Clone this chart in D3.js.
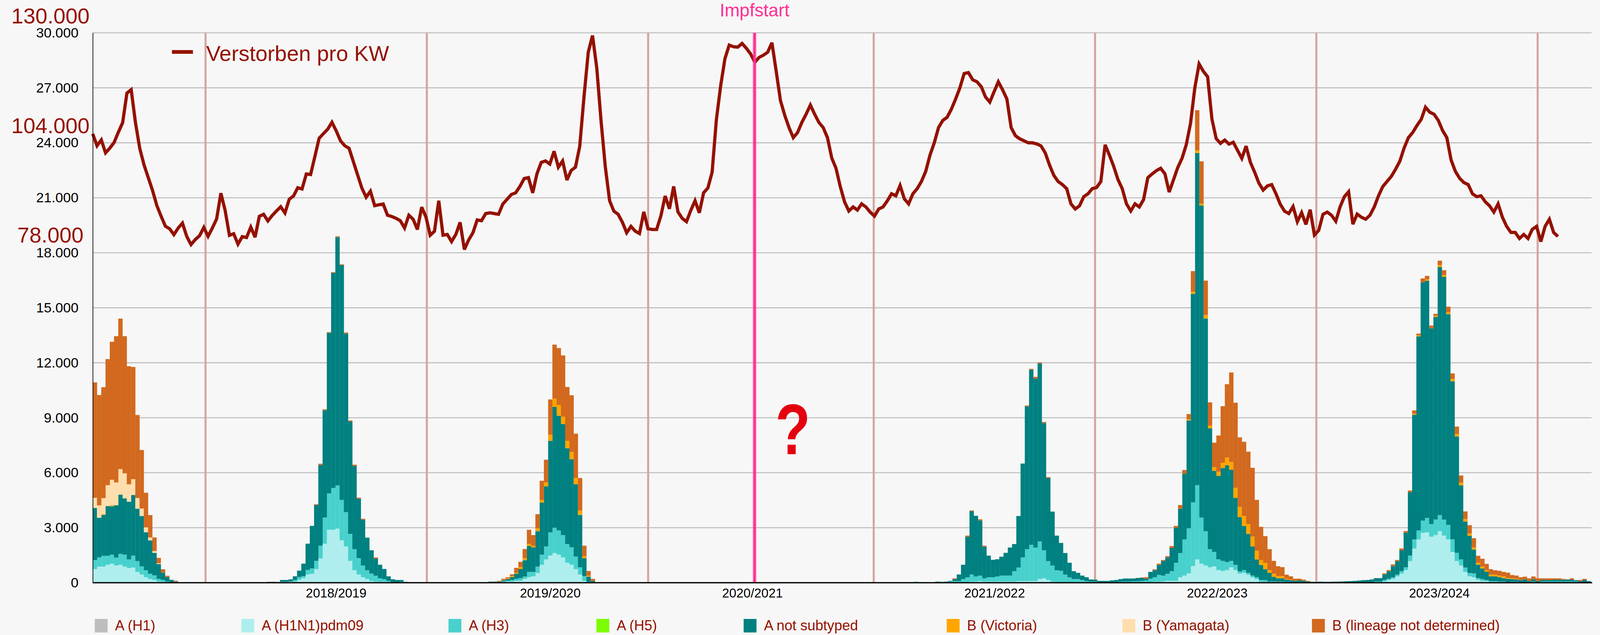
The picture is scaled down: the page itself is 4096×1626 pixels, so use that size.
<!DOCTYPE html>
<html><head><meta charset="utf-8">
<script src="https://cdn.jsdelivr.net/npm/d3@7"></script>
<style>html,body{margin:0;padding:0;background:#f7f7f7;overflow:hidden}text{font-family:"Liberation Sans",Arial,Helvetica,sans-serif}</style>
</head><body>
<svg id="chart" width="4096" height="1626"></svg>
<script>
// ---------------- DATA ----------------
const seriesNames = ["A (H1)", "A (H1N1)pdm09", "A (H3)", "A (H5)", "A not subtyped", "B (Victoria)", "B (Yamagata)", "B (lineage not determined)"];
const seriesColors = ["#bebebe", "#afeeee", "#48d1cc", "#7cfc00", "#008080", "#ffa500", "#ffdead", "#d2691e"];
// first week index (0 = 2018 KW1) of each block of bar values
const segmentStart = [0, 41, 93, 193];

const aH1 = [[], [], [], []];
const aH5 = [[], [], [], []];
const aH1N1 = [
  [740,880,880,980,1040,940,980,880,800,830,590,450,300,200,150,60,45,0,0,0],
  [0,0,0,50,50,65,50,160,250,450,490,740,1320,2130,2890,2890,2950,2310,1980,1190,680,450,300,200,90,50,30,50,20,0,0,0,0],
  [0,0,0,30,70,60,100,100,210,300,350,530,980,1270,1480,1620,1530,1380,1090,980,740,450,100,0,0],
  [0,0,0,0,0,0,0,0,0,0, 0,0,0,60,60,90,60,60,60,60, 60,60,60,60,90,90,90,90,90,200,
   240,150,40,0,0,0,0,0,0,0, 0,0,0,0,0,0,0,0,0,0, 0,0,0,0,0,0,50,50,70,100,
   100,100,300,390,510,910,1270,1040,940,840, 890,690,640,690,840,690,500,540,440,290,
   200,50,0,0,0,0,0,0,0,0, 0,0,0,0,0,0,0,0,0,0, 0,0,0,0,0,0,0,0,0,0,
   70,150,210,350,500,690,1180,1860,2360,2720, 2750,2510,2600,2810,2570,2360,1680,1180,940,590,
   350,300,160,90,90,40,40,0,0,0, 0,0,0,0,0,0,0,0,0,0, 0,0,0,0,0,0,0,0,0]
];
const aH3 = [
  [500,500,590,490,490,430,590,650,470,650,590,440,380,290,250,150,110,70,0,0],
  [0,0,50,0,0,0,100,150,110,250,290,450,700,1430,1980,2280,2360,2210,1870,1470,1150,890,640,480,410,330,210,140,80,30,0,50,0],
  [0,0,0,50,40,90,110,150,130,290,240,350,550,710,1270,1380,1320,1220,1020,950,690,390,260,50,0],
  [60,0,0,0,0,0,60,0,60,90, 90,200,290,390,280,300,180,240,240,280, 330,330,330,570,740,1290,1740,1980,1830,2050,
   1530,1030,900,680,650,440,290,200,200,150, 90,60,60,0,0,0,30,40,60,70, 70,80,90,100,130,220,250,380,320,390,
   530,990,1320,1970,2460,3480,4050,2510,1870,990, 790,590,550,440,350,280,120,150,100,100,
   100,100,140,70,70,60,60,50,50,30, 40,30,0,0,0,0,0,0,0,0, 0,0,0,0,0,0,0,0,70,70,
   80,70,90,90,130,150,300,500,490,670, 790,690,850,880,870,790,690,450,330,240,
   180,210,90,110,50,50,50,70,70,0, 50,50,0,0,0,60,0,70,70,70, 70,70,70,70,70,70,0,0,0]
];
const aNotSubtyped = [
  [2840,2160,2230,2710,2640,2860,3240,3070,3150,3310,2860,2750,2070,1820,1230,810,390,240,160,60],
  [50,50,0,100,100,120,200,350,680,1430,2320,3050,4400,5850,8760,11730,13540,12810,9740,6140,4540,3240,2500,1780,1270,940,740,560,250,160,150,100,50],
  [60,60,60,60,90,160,280,500,890,1420,1330,1930,2840,3280,4990,6590,6260,6060,5230,4810,3940,2860,980,280,100],
  [0,0,0,10,10,60,0,60,40,110, 360,780,2220,3450,3310,3010,1730,1180,950,940, 1030,1240,1530,1480,2810,5120,7790,9550,9220,9710,
   6940,4530,2940,1890,1520,1180,800,430,340,240, 210,120,110,100,100,100,100,110,140,160, 160,150,170,170,90,370,380,540,800,890,
   1270,1910,2420,3590,5880,11370,18120,17030,11600,6590, 4420,4550,5070,5280,4970,3660,2960,2410,2120,1590,
   970,820,600,470,250,180,180,120,90,70, 100,70,70,50,50,60,50,50,60,60, 70,80,90,100,120,140,150,180,180,180,
   310,410,610,740,1140,1900,3460,6800,10590,13000, 12940,10680,11050,13530,13250,11500,8620,6350,4040,2510,
   2030,1300,730,570,460,260,260,230,180,210, 150,130,140,190,100,130,90,80,80,80, 100,100,90,110,100,70,90,150,90]
];
const bVictoria = [
  [0,0,45,0,56,0,0,0,0,0,0,0,0,0,0,0,0,0,0,0],
  [],
  [0,0,0,20,40,50,50,100,110,110,90,160,150,210,340,450,590,400,400,400,340,240,100,50,0],
  [0,0,0,0,0,0,0,0,0,0, 0,0,0,0,0,0,0,0,0,0, 0,0,0,0,0,0,0,0,0,0,
   0,0,0,0,0,0,0,0,0,0, 0,0,0,0,0,0,0,0,0,0, 0,0,0,0,0,0,0,0,0,0,
   0,0,0,0,70,120,150,100,200,150, 200,230,280,420,430,540,550,540,540,540,
   470,270,350,150,170,120,120,50,30,0, 0,0,0,0,0,0,0,0,0,0, 0,0,0,0,0,0,0,0,0,0,
   0,0,0,0,0,0,0,60,60,0, 70,0,60,110,90,110,130,140,150,140,
   130,120,100,110,90,90,90,90,100,50, 40,30,0,0,0,0,0,0,0,0, 0,0,0,0,0,0,0,0,0]
];
const bYamagata = [
  [550,680,870,1140,1390,1240,1390,1370,950,860,580,410,270,160,100,45,0,0,0,0],
  [], [], []
];
const bNotDetermined = [
  [6300,6020,6050,6880,7530,7980,8210,7480,6440,6120,4530,3190,1890,1220,740,290,190,70,0,45],
  [0,0,0,0,0,0,0,0,0,0,0,40,70,50,40,40,50,40,60,50,70,60,50,0,0,60,0,0,0,0,0,0,0],
  [0,0,40,60,60,100,270,290,500,770,590,770,1040,1240,1920,2950,3100,3340,2940,3090,2420,1770,580,260,110],
  [0,0,0,0,0,0,0,0,0,40, 0,0,60,40,0,60,50,0,0,0, 0,0,0,0,0,0,50,50,90,60,
   60,50,0,0,0,0,0,0,0,0, 0,0,0,0,0,0,0,0,0,0, 0,0,0,20,80,0,50,70,50,70,
   100,100,200,200,280,1120,2190,2310,1870,1270, 1340,1970,3090,4000,4880,4650,3800,4050,3950,3750,
   2780,1810,1450,1140,700,540,490,220,180,120, 80,70,30,0,0,0,0,0,0,0, 0,0,0,0,0,0,0,0,0,0,
   50,60,90,60,100,80,90,180,90,210, 190,150,110,240,270,300,300,400,390,410,
   450,500,390,430,340,300,240,260,240,290, 180,180,160,140,140,150,150,90,90,90, 70,70,50,0,70,0,60,60,0]
];

// weekly deaths (Verstorben pro KW)
const deaths = [
  24490,23840,24160,23450,23710,24020,24580,25100,26710,26900,
  25100,23700,22800,22100,21400,20580,20000,19450,19310,18990,
  19350,19620,18900,18450,18720,18930,19380,18900,19350,19850,
  21250,20300,18950,19040,18470,18880,18830,19400,18850,19990,
  20100,19740,20030,20280,20510,20170,20920,21100,21550,21480,
  22300,22270,23250,24250,24500,24740,25120,24650,24110,23840,
  23700,22980,22250,21530,21030,21360,20570,20620,20660,20050,
  19980,19880,19750,19350,20050,19830,19270,20490,19960,18960,
  19180,20840,18960,19000,18610,19000,19660,18180,18700,19090,
  19790,19750,20140,20180,20140,20100,20660,20920,21180,21270,
  21620,22050,22100,21270,22320,22930,23010,22840,23540,22670,
  23010,21970,22490,22670,23800,26500,28940,29850,28070,25190,
  22670,20840,20270,20100,19660,19090,19440,19180,19050,20230,
  19310,19270,19270,20010,21100,20400,21620,20230,19880,19700,
  20310,20840,20180,21270,21530,22400,25280,27110,28590,29330,
  29240,29220,29420,29160,28850,28400,28660,28780,28940,29460,
  27900,26300,25500,24830,24280,24560,25110,25560,26060,25560,
  25110,24830,24280,23170,22610,21610,20780,20280,20500,20330,
  20670,20500,20220,20000,20390,20500,20830,21220,21110,21670,
  20940,20670,21220,21500,21890,22440,23330,24000,24830,25220,
  25390,25830,26390,27000,27780,27830,27440,27330,27060,26500,
  26220,26780,27330,26890,26390,24830,24390,24220,24110,24000,
  24000,23940,23830,23440,22780,22220,21890,21720,21500,20670,
  20390,20560,21060,21220,21500,21560,21890,23890,23330,22720,
  22000,21500,20670,20280,20670,20500,20900,22100,22300,22480,
  22610,22310,21310,21980,22650,23150,23900,25070,27000,28300,
  27900,27600,25300,24230,23970,24150,23930,24030,23590,23150,
  23820,22940,22400,21800,21420,21650,21720,21220,20650,20270,
  20140,20520,19700,20190,19550,20350,18970,19220,20100,20220,
  20050,19720,20500,21060,21330,19560,20110,19940,19830,20050,
  20500,21110,21610,21890,22170,22560,23000,23720,24280,24560,
  24940,25280,25940,25670,25560,25220,24670,24280,23060,22440,
  22060,21830,21720,21220,21060,21110,20780,20560,20220,20670,
  19940,19440,19110,19110,18780,19000,18780,19280,19440,18610,
  19440,19830,19110,18890
];

const yTickValues = [0,3000,6000,9000,12000,15000,18000,21000,24000,27000,30000];
const deathScaleLabels = [78000, 104000, 130000];
const seasonLabels = ["2018/2019","2019/2020","2020/2021","2021/2022","2022/2023","2023/2024"];
const seasonLabelWeeks = [57.2, 107.5, 155, 211.9, 264.2, 316.4];
const seasonBoundaryWeeks = [26, 78, 130, 183, 235, 287, 339];
const vaccinationWeek = 155;
const nWeeks = 352;

// ---------------- LAYOUT ----------------
const W = 4727, H = 1876, S = 4096 / 4727;
const svg = d3.select("#chart");
const root = svg.append("g").attr("transform", `scale(${S})`);
root.append("rect").attr("width", W).attr("height", H).attr("fill", "#f7f7f7");

const x = d3.scaleLinear().domain([0, nWeeks]).range([274, 4700]);
const step = x(1) - x(0);
const xl = d3.scaleLinear().domain([0, deaths.length - 1]).range([274, 274 + (deaths.length - 1) * 12.62]);
const y = d3.scaleLinear().domain([0, 30000]).range([1722, 97]);
const yDeathLabel = d3.scaleLinear().domain([78000, 130000]).range([717, 69]);
const de = d3.formatLocale({decimal: ",", thousands: ".", grouping: [3], currency: ["", "€"]});
const fmt = de.format(",d");

// gridlines
root.append("g").selectAll("line").data(yTickValues.filter(v => v > 0)).join("line")
  .attr("x1", 274).attr("x2", 4702).attr("y1", d => y(d)).attr("y2", d => y(d))
  .attr("stroke", "#bdbdbd").attr("stroke-width", 3);

// season boundaries
root.append("g").selectAll("line").data(seasonBoundaryWeeks).join("line")
  .attr("x1", d => x(d + 0.5)).attr("x2", d => x(d + 0.5)).attr("y1", y(30000)).attr("y2", y(0))
  .attr("stroke", "#d4a5a0").attr("stroke-width", 6);

// stacked bars
const seriesData = [aH1, aH1N1, aH3, aH5, aNotSubtyped, bVictoria, bYamagata, bNotDetermined];
const table = d3.range(nWeeks).map(i => { const o = {week: i}; seriesNames.forEach(k => o[k] = 0); return o; });
seriesData.forEach((segs, si) => segs.forEach((arr, gi) => arr.forEach((v, j) => {
  const w = segmentStart[gi] + j; if (w < nWeeks) table[w][seriesNames[si]] = v; })));
const stacked = d3.stack().keys(seriesNames)(table);
root.append("g").selectAll("g").data(stacked).join("g").attr("fill", (d, i) => seriesColors[i])
  .selectAll("rect").data(d => d.filter(p => p[1] - p[0] > 0)).join("rect")
  .attr("x", d => x(d.data.week)).attr("width", step + 0.3)
  .attr("y", d => y(d[1])).attr("height", d => y(d[0]) - y(d[1]));

// deaths line
root.append("path").datum(deaths)
  .attr("d", d3.line().x((d, i) => xl(i)).y(d => y(d)))
  .attr("fill", "none").attr("stroke", "#941100").attr("stroke-width", 9.5)
  .attr("stroke-linejoin", "miter").attr("stroke-miterlimit", 3);

// vaccination start
const xv = x(vaccinationWeek + 0.5);
root.append("line").attr("x1", xv).attr("x2", xv).attr("y1", y(30000)).attr("y2", y(0))
  .attr("stroke", "#ff2f92").attr("stroke-width", 12).attr("opacity", 0.35);
root.append("line").attr("x1", xv).attr("x2", xv).attr("y1", y(30000)).attr("y2", y(0))
  .attr("stroke", "#ff2f92").attr("stroke-width", 7);
root.append("text").attr("x", xv).attr("y", 48).attr("text-anchor", "middle")
  .attr("font-size", 53).attr("fill", "#ff2f92").text("Impfstart");

// question mark
root.append("text").attr("transform", `translate(${x(164.5)},1342) scale(0.8,1)`)
  .attr("text-anchor", "middle").attr("font-size", 212).attr("font-weight", "bold")
  .attr("fill", "#e3000f").text("?");

// left axis
const yAxis = d3.axisLeft(y).tickValues(yTickValues).tickFormat(fmt).tickSize(0).tickPadding(42);
const ga = root.append("g").attr("transform", "translate(274,0)").call(yAxis);
ga.select(".domain").attr("stroke", "#000").attr("stroke-width", 2);
ga.selectAll("text").attr("font-size", 41).attr("fill", "#000")
  .attr("font-family", '"Liberation Sans",Arial,sans-serif');

// bottom axis line
root.append("line").attr("x1", 274).attr("x2", 4704).attr("y1", y(0)).attr("y2", y(0))
  .attr("stroke", "#000").attr("stroke-width", 3.5);

// death scale labels
root.append("g").selectAll("text").data(deathScaleLabels).join("text")
  .attr("x", 149).attr("y", d => yDeathLabel(d)).attr("text-anchor", "middle")
  .attr("font-size", 64).attr("fill", "#941100").text(d => fmt(d));

// top legend
root.append("line").attr("x1", 508).attr("x2", 570).attr("y1", 153.5).attr("y2", 153.5)
  .attr("stroke", "#941100").attr("stroke-width", 11);
root.append("text").attr("x", 609).attr("y", 180).attr("font-size", 64).attr("fill", "#941100")
  .text("Verstorben pro KW");

// season labels
const sl = root.append("g").selectAll("g").data(seasonLabels).join("g")
  .attr("transform", (d, i) => `translate(${x(seasonLabelWeeks[i])},0)`);
sl.append("rect").attr("x", -89.5).attr("y", 1731).attr("width", 179).attr("height", 42).attr("fill", "#fff");
sl.append("text").attr("y", 1765.5).attr("text-anchor", "middle").attr("font-size", 38).attr("fill", "#000").text(d => d);

// bottom legend
const legendX = [280, 713, 1325, 1762, 2197, 2797, 3316, 3876];
const lg = root.append("g").selectAll("g").data(seriesNames).join("g")
  .attr("transform", (d, i) => `translate(${legendX[i]},1829)`);
lg.append("rect").attr("width", 38).attr("height", 40).attr("fill", (d, i) => seriesColors[i]);
lg.append("text").attr("x", 60).attr("y", 34).attr("font-size", 42).attr("fill", "#941100").text(d => d);
</script>
</body></html>
